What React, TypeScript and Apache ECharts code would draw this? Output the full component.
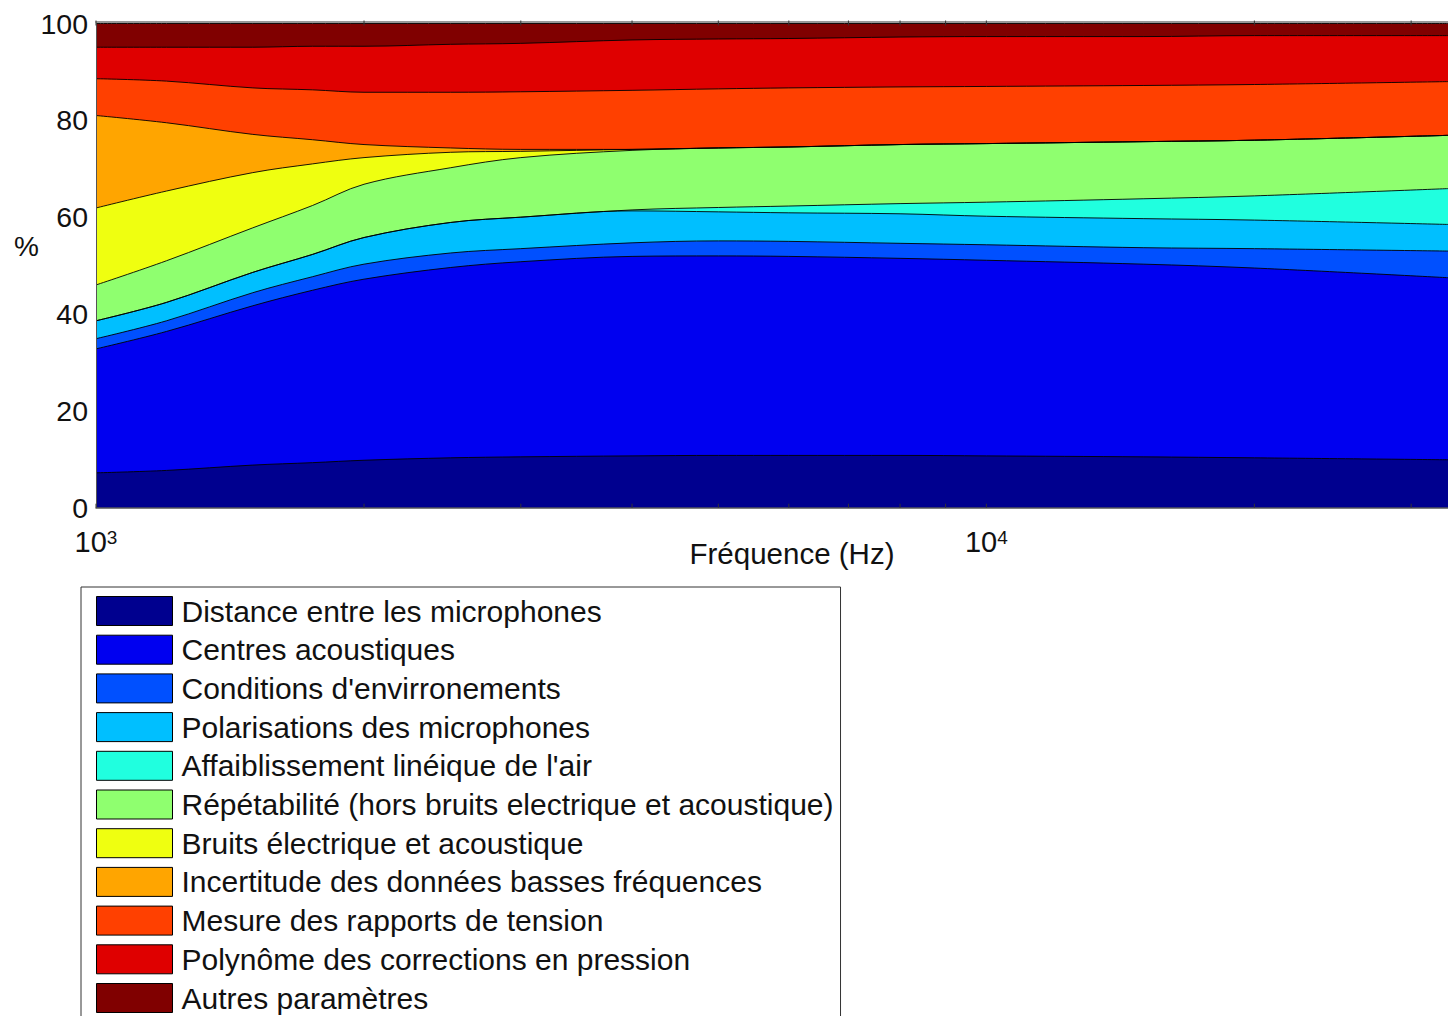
import React, { useEffect, useRef } from "react";
import * as echarts from "echarts";

// Frequencies (Hz) at which the contributions were read
const FREQS = [1000, 1200, 1500, 1750, 2000, 2500, 3000, 4000, 5000, 6000, 8000, 10000, 15000, 20000, 33000];

// Contribution of each source (%), stacked from bottom to top
const distance = [7.2, 7.7, 8.8, 9.3, 9.8, 10.3, 10.5, 10.7, 10.8, 10.8, 10.8, 10.7, 10.5, 10.3, 9.9];
const centres = [25.6, 28.7, 32.9, 35.6, 37.4, 39.3, 40.3, 41.2, 41.2, 41.1, 40.7, 40.4, 39.8, 39.2, 37.6];
const conditions = [2.1, 2.2, 2.7, 2.8, 3.1, 3.0, 2.7, 2.8, 3.1, 3.1, 3.1, 3.2, 3.4, 4.0, 5.5];
const polarisations = [3.7, 3.8, 4.2, 4.6, 5.5, 6.3, 6.5, 6.6, 6.0, 5.9, 6.1, 5.9, 6.0, 5.9, 5.5];
const affaiblissement = [0, 0, 0, 0, 0, 0, 0, 0.2, 0.9, 1.4, 2.1, 2.9, 4.1, 5.0, 7.4];
const repetabilite = [7.4, 8.6, 9.2, 10.1, 11.0, 11.3, 12.3, 12.3, 12.3, 12.2, 12.2, 12.1, 11.8, 11.5, 11.0];
const bruits = [15.9, 14.4, 11.4, 8.6, 5.5, 3.2, 1.3, 0.2, 0, 0, 0, 0, 0, 0, 0];
const incertitude = [19.1, 14.1, 7.9, 5.0, 2.7, 0.9, 0.4, 0, 0, 0, 0, 0, 0, 0, 0];
const mesure = [7.6, 8.6, 9.6, 10.3, 10.8, 11.5, 11.9, 12.2, 12.2, 12.2, 11.9, 11.8, 11.6, 11.5, 11.1];
const polynome = [6.5, 7.0, 8.4, 9.0, 9.5, 9.9, 10.0, 10.4, 10.3, 10.2, 10.3, 10.3, 10.1, 10.1, 9.5];
const autres = [4.9, 4.9, 4.9, 4.7, 4.7, 4.3, 4.1, 3.4, 3.2, 3.1, 2.8, 2.7, 2.7, 2.5, 2.5];

const SERIES_NAMES = [
  "Distance entre les microphones",
  "Centres acoustiques",
  "Conditions d'envirronements",
  "Polarisations des microphones",
  "Affaiblissement linéique de l'air",
  "Répétabilité (hors bruits electrique et acoustique)",
  "Bruits électrique et acoustique",
  "Incertitude des données basses fréquences",
  "Mesure des rapports de tension",
  "Polynôme des corrections en pression",
  "Autres paramètres",
];
const SERIES_VALUES = [distance, centres, conditions, polarisations, affaiblissement, repetabilite, bruits, incertitude, mesure, polynome, autres];

// Tick positions on the logarithmic frequency axis
const TICK_VALUES = [1000, 2000, 3000, 4000, 5000, 6000, 7000, 8000, 9000, 10000, 20000, 30000];

const X_MIN = 1000;
const X_MAX = 33000;
const Y_LABEL = "%";
const X_LABEL = "Fréquence (Hz)";

const COLORS = ["#00008F", "#0000F0", "#0050FF", "#00BFFF", "#20FFDF", "#8FFF6F", "#EFFF10", "#FFA500", "#FF4000", "#DF0000", "#800000"];
const FONT = "'Liberation Sans', Arial, Helvetica, sans-serif";
const TEXT = "#111";

export default function App() {
  const ref = useRef<HTMLDivElement>(null);

  useEffect(() => {
    if (!ref.current) return;
    const chart = echarts.init(ref.current, null, { renderer: "svg" });

    // cumulative tops of each band (stacking done here because the x axis is numeric)
    const cumulative: number[][] = [];
    SERIES_VALUES.forEach((vals, i) => {
      cumulative.push(vals.map((v, j) => +(v + (i > 0 ? cumulative[i - 1][j] : 0)).toFixed(3)));
    });

    // draw from the top band down so that lower bands cover the ones above
    const areaSeries = SERIES_NAMES.map((name, i) => ({
      name,
      type: "line",
      data: FREQS.map((f, j) => [f, cumulative[i][j]]),
      symbol: "none",
      showSymbol: false,
      smooth: 0.35,
      lineStyle: { color: "#000", width: 0.9 },
      areaStyle: { color: COLORS[i], opacity: 1, origin: "start" },
      itemStyle: { color: COLORS[i] },
      z: 2,
    })).reverse();

    const tickSeries = {
      name: "ticks",
      type: "custom",
      data: TICK_VALUES.map((v) => [v, 0]),
      z: 20,
      silent: true,
      renderItem: (params: any, api: any) => {
        const v = api.value(0);
        const b = api.coord([v, 0]);
        const t = api.coord([v, 100]);
        const st = { stroke: "#333", lineWidth: 1 };
        return {
          type: "group",
          children: [
            { type: "line", shape: { x1: b[0], y1: b[1], x2: b[0], y2: b[1] - 4 }, style: st },
            { type: "line", shape: { x1: t[0], y1: t[1] - 3, x2: t[0], y2: t[1] + 2 }, style: st },
          ],
        };
      },
    };

    chart.setOption({
      animation: false,
      backgroundColor: "#fff",
      grid: { left: 96, right: 0, top: 23.5, bottom: 1016 - 507.7, containLabel: false },
      legend: {
        orient: "vertical",
        left: 81,
        top: 587,
        height: 460,
        padding: [9, 7, 12, 15],
        itemWidth: 76,
        itemHeight: 29,
        itemGap: 8.7,
        borderColor: "#333",
        borderWidth: 1,
        backgroundColor: "#fff",
        selectedMode: false,
        textStyle: { fontSize: 30, fontFamily: FONT, color: TEXT, padding: [0, 0, 0, 4] },
        data: SERIES_NAMES.map((n, i) => ({
          name: n,
          icon: "rect",
          itemStyle: { color: COLORS[i], borderColor: "#000", borderWidth: 1 },
        })),
      },
      xAxis: [
        {
          type: "log",
          logBase: 10,
          min: X_MIN,
          max: X_MAX,
          position: "bottom",
          z: 10,
          axisLine: { show: true, lineStyle: { color: "#555", width: 1.5 } },
          axisTick: { show: false },
          splitLine: { show: false },
          axisLabel: {
            margin: 20,
            showMaxLabel: false,
            formatter: (v: number) => "{b|10}{s|" + Math.round(Math.log10(v)) + "}",
            rich: {
              b: { fontSize: 29, fontFamily: FONT, color: TEXT, lineHeight: 29, verticalAlign: "bottom" },
              s: { fontSize: 19, fontFamily: FONT, color: TEXT, lineHeight: 19, verticalAlign: "top", padding: [0, 0, 4, 0] },
            },
          },
        },
        {
          type: "log",
          logBase: 10,
          min: X_MIN,
          max: X_MAX,
          position: "top",
          offset: 2,
          z: 10,
          axisLine: { show: true, lineStyle: { color: "#777", width: 1.5 } },
          axisTick: { show: false },
          axisLabel: { show: false },
          splitLine: { show: false },
        },
      ],
      yAxis: {
        type: "value",
        min: 0,
        max: 100,
        interval: 20,
        z: 10,
        axisLine: { show: true, lineStyle: { color: "#555", width: 1 } },
        axisTick: { show: false },
        splitLine: { show: false },
        axisLabel: { fontSize: 28.5, fontFamily: FONT, color: TEXT, margin: 8 },
      },
      graphic: [
        {
          type: "text",
          left: 14,
          top: 232,
          style: { text: Y_LABEL, fontSize: 28, fontFamily: FONT, fill: TEXT },
        },
        {
          type: "text",
          x: 792,
          y: 553,
          style: { text: X_LABEL, fontSize: 29.5, fontFamily: FONT, fill: TEXT, align: "center", verticalAlign: "middle" },
        },
      ],
      series: [...areaSeries, tickSeries],
    });

    return () => chart.dispose();
  }, []);

  return <div ref={ref} style={{ position: "absolute", left: 0, top: 0, width: 1448, height: 1016 }} />;
}
